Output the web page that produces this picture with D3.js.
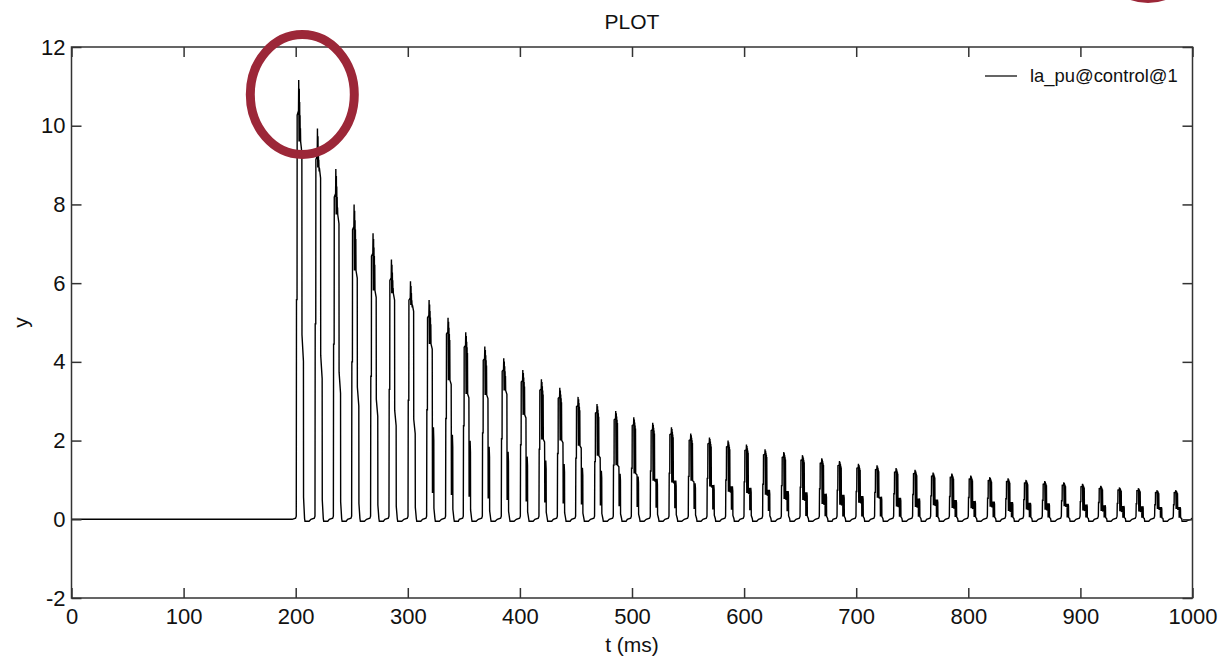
<!DOCTYPE html>
<html>
<head>
<meta charset="utf-8">
<script src="https://cdn.jsdelivr.net/npm/d3@7"></script>
<style>
  body { margin: 0; background: #fff; }
  svg { display: block; font-family: "Liberation Sans", Arial, sans-serif; }
  .tick text { fill: #111; }
</style>
</head>
<body>
<svg width="1220" height="660"></svg>
<script>
// peak time (ms) and peak height of every spike
const peakTimes = [202.9, 219.6, 236.0, 252.3, 269.2, 285.6, 302.6, 319.2, 336.1, 351.9,
  368.9, 385.8, 402.8, 419.4, 435.8, 452.1, 469.0, 485.7, 501.8, 518.7,
  535.4, 552.6, 569.3, 585.9, 602.3, 618.9, 635.6, 652.3, 669.5, 685.3,
  702.2, 718.8, 735.8, 752.7, 768.8, 785.5, 802.4, 819.4, 835.7, 851.7,
  868.4, 885.4, 902.1, 918.4, 935.1, 952.0, 968.6, 985.3];
const peakValues = [11.16, 9.93, 8.9, 8.0, 7.27, 6.6, 6.05, 5.57, 5.12, 4.75,
  4.39, 4.09, 3.79, 3.56, 3.34, 3.11, 2.93, 2.75, 2.59, 2.45,
  2.34, 2.18, 2.08, 2.0, 1.9, 1.78, 1.71, 1.63, 1.55, 1.48,
  1.41, 1.37, 1.3, 1.26, 1.19, 1.16, 1.11, 1.07, 1.04, 1.0,
  0.97, 0.94, 0.9, 0.85, 0.81, 0.79, 0.74, 0.74];
// how far (fraction of the peak) the dark top part of each spike reaches down
const dipFracs = [0.86, 0.9, 0.87, 0.79, 0.8, 0.87, 0.9, 0.8, 0.69, 0.67,
  0.72, 0.8, 0.7, 0.57, 0.6, 0.6, 0.55, 0.5, 0.45, 0.4,
  0.4, 0.45, 0.4, 0.35, 0.35, 0.35, 0.3, 0.3, 0.25, 0.25,
  0.3, 0.4, 0.25, 0.25, 0.3, 0.25, 0.25, 0.3, 0.2, 0.25,
  0.25, 0.35, 0.25, 0.25, 0.25, 0.25, 0.35, 0.35];

const xTicks = [0, 100, 200, 300, 400, 500, 600, 700, 800, 900, 1000];
const yTicks = [-2, 0, 2, 4, 6, 8, 10, 12];
const seriesName = 'la_pu@control@1';

const svg = d3.select('svg');
const box = { left: 71.5, right: 1192.5, top: 47, bottom: 598 };

const x = d3.scaleLinear().domain([0, 1000]).range([box.left, box.right]);
const y = d3.scaleLinear().domain([-2, 12]).range([box.bottom, box.top]);

// build the trace: flat baseline, then one spike shape per peak
const pts = [[0, 0]];
peakTimes.forEach((tp, i) => {
  const P = peakValues[i], d = dipFracs[i];
  pts.push([tp - 6, 0], [tp - 3, 0.03], [tp - 2.4, 0.08]);
  pts.push([tp - 2.2, 0.5 * P], [tp - 1.7, 0.5 * P], [tp - 1.6, 0.92 * P], [tp - 0.4, 0.93 * P], [tp - 0.2, P]);
  // dense up/down wiggle at the top of the spike
  for (let j = 0; j < 4; j++) {
    pts.push([tp + 0.1 + j * 0.35, d * P], [tp + 0.28 + j * 0.35, (0.98 - 0.03 * j) * P]);
  }
  pts.push([tp + 1.5, d * P], [tp + 2.6, d * P * 0.97], [tp + 2.7, 0.42 * P]);
  // second wiggle lower down on the falling side
  if (i >= 7) {
    const lo = i >= 27 ? 0.05 : 0.12;
    for (let j = 0; j < 4; j++) {
      pts.push([tp + 2.8 + j * 0.25, lo * P], [tp + 2.92 + j * 0.25, 0.42 * P]);
    }
  }
  pts.push([tp + 4.0, 0.36 * P], [tp + 4.1, 0.05 * P], [tp + 5.0, 0.02], [tp + 5.4, -0.05], [tp + 9, -0.05]);
});
pts.push([996, -0.03], [998.5, 0], [1000, 0.03]);

svg.append('clipPath').attr('id', 'clip')
  .append('rect')
  .attr('x', box.left).attr('y', box.top)
  .attr('width', box.right - box.left).attr('height', box.bottom - box.top);

const line = d3.line().x(d => x(d[0])).y(d => y(d[1]));

svg.append('path')
  .datum(pts)
  .attr('clip-path', 'url(#clip)')
  .attr('d', line)
  .attr('fill', 'none')
  .attr('stroke', '#000')
  .attr('stroke-width', 1.4);

// axes with inward ticks on all four sides
const fmt = d => String(d);
const styleAxis = g => {
  g.selectAll('.domain').remove();
  g.selectAll('.tick line').attr('stroke', '#333').attr('stroke-width', 1.5);
  g.selectAll('.tick text').attr('font-size', 22);
};

svg.append('g').attr('transform', `translate(0,${box.bottom})`)
  .call(d3.axisBottom(x).tickValues(xTicks).tickSize(-10).tickPadding(10).tickFormat(fmt))
  .call(styleAxis);
svg.append('g').attr('transform', `translate(0,${box.top})`)
  .call(d3.axisTop(x).tickValues(xTicks).tickSize(-10).tickFormat(''))
  .call(styleAxis);
svg.append('g').attr('transform', `translate(${box.left},0)`)
  .call(d3.axisLeft(y).tickValues(yTicks).tickSize(-10).tickPadding(6).tickFormat(fmt))
  .call(styleAxis);
svg.append('g').attr('transform', `translate(${box.right},0)`)
  .call(d3.axisRight(y).tickValues(yTicks).tickSize(-10).tickFormat(''))
  .call(styleAxis);

svg.append('rect')
  .attr('x', box.left).attr('y', box.top)
  .attr('width', box.right - box.left).attr('height', box.bottom - box.top)
  .attr('fill', 'none').attr('stroke', '#333').attr('stroke-width', 1.5);

// title + axis labels
const midX = (box.left + box.right) / 2;
svg.append('text').attr('x', midX).attr('y', 29)
  .attr('text-anchor', 'middle').attr('font-size', 21).attr('fill', '#111').text('PLOT');
svg.append('text').attr('x', midX).attr('y', 652)
  .attr('text-anchor', 'middle').attr('font-size', 21).attr('fill', '#111').text('t (ms)');
svg.append('text').attr('transform', `translate(28,${(box.top + box.bottom) / 2}) rotate(-90)`)
  .attr('text-anchor', 'middle').attr('font-size', 21).attr('fill', '#111').text('y');

// legend
svg.append('line').attr('x1', 985).attr('x2', 1017).attr('y1', 76).attr('y2', 76)
  .attr('stroke', '#111').attr('stroke-width', 1.3);
svg.append('text').attr('x', 1030).attr('y', 82)
  .attr('font-size', 18.4).attr('fill', '#111').text(seriesName);

// red highlight rings drawn over the chart
svg.append('ellipse').attr('cx', 302.3).attr('cy', 94.5).attr('rx', 52).attr('ry', 60)
  .attr('fill', 'none').attr('stroke', '#9c2738').attr('stroke-width', 9);
svg.append('ellipse').attr('cx', 1148).attr('cy', -61.5).attr('rx', 52).attr('ry', 60)
  .attr('fill', 'none').attr('stroke', '#9c2738').attr('stroke-width', 9);
</script>
</body>
</html>
